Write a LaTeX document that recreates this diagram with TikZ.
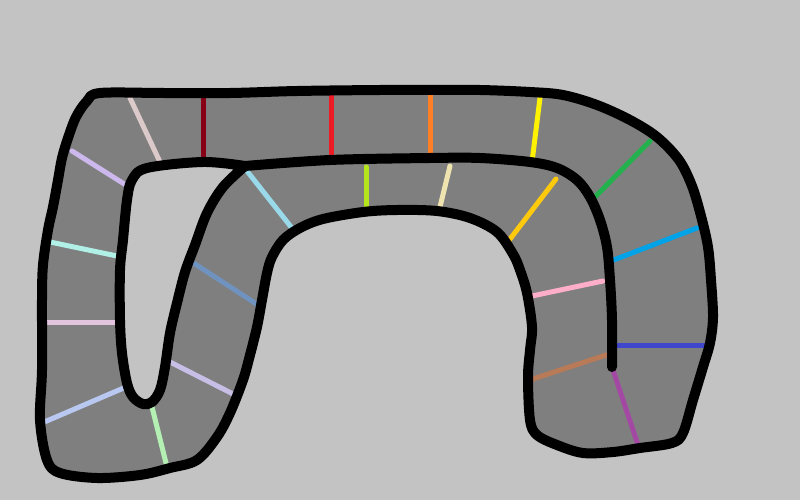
\documentclass[tikz,border=0pt]{standalone}
\usetikzlibrary{calc}
\definecolor{bg}{HTML}{C3C3C3}
\definecolor{band}{HTML}{7F7F7F}
\definecolor{cRosy}{HTML}{DCCACA}
\definecolor{cDarkRed}{HTML}{880015}
\definecolor{cRed}{HTML}{ED1C24}
\definecolor{cOrange}{HTML}{FF7F27}
\definecolor{cYellow}{HTML}{FFF200}
\definecolor{cGreen}{HTML}{22B14C}
\definecolor{cCyan}{HTML}{00A2E8}
\definecolor{cBlue}{HTML}{3F48CC}
\definecolor{cPurple}{HTML}{A349A4}
\definecolor{cBrown}{HTML}{B97A57}
\definecolor{cPink}{HTML}{FFAEC9}
\definecolor{cGold}{HTML}{FFC90E}
\definecolor{cBeige}{HTML}{EFE4B0}
\definecolor{cLime}{HTML}{B5E61D}
\definecolor{cTurq}{HTML}{99D9EA}
\definecolor{cSteel}{HTML}{7092BE}
\definecolor{cLav}{HTML}{C8BFE7}
\definecolor{cMint}{HTML}{B4F0B4}
\definecolor{cPaleBlue}{HTML}{B8C8F0}
\definecolor{cPinkLav}{HTML}{E2C4DE}
\definecolor{cAqua}{HTML}{B0F0E6}
\definecolor{cThistle}{HTML}{CCB8EC}
\begin{document}
\begin{tikzpicture}[x=1pt,y=-1pt,
  outline/.style={draw=black,line width=10pt,line join=round,line cap=round},
  tick/.style={line width=5pt,line cap=round}]
\useasboundingbox (0,0) rectangle (800,500);
\fill[bg] (0,0) rectangle (800,500);
\def\outerpath{plot[smooth cycle,tension=0.55] coordinates {
 (100,93) (163,93) (230,93) (297,91) (380,90) (430,90) (480,90) (530,92) (563,95)
 (597,105) (630,120) (657,137) (679,160) (692,186) (701,216) (708,247) (711,280)
 (713,317) (710,343) (703,367) (693,400) (683,433) (672,443) (640,448) (613,452)
 (583,453) (557,445) (537,435) (530,420) (528,377) (530,350) (532,327) (527,293)
 (520,270) (513,254) (497,232) (470,218) (437,211) (397,210) (363,212) (323,219)
 (300,228) (283,240) (272,257) (267,273) (262,300) (257,327) (250,355) (243,380)
 (230,413) (217,437) (197,460) (170,468) (140,475) (97,478) (60,473) (47,460)
 (40,420) (42,370) (42,300) (43,265) (48,230) (53,207) (58,180) (62,158) (68,138)
 (76,117) (87,101)}}
\def\holepath{plot[smooth,tension=0.55] coordinates {
 (245,166) (223,187) (207,213) (195,245) (185,272) (177,303) (170,333) (165,367)
 (160,390) (152,402) (143,404) (133,397) (127,383) (122,353) (120,320) (120,270)
 (123,240) (127,200) (132,180) (147,168) (203,162) (245,166)} -- cycle}
% outer band
\path[fill=band] \outerpath;
% hole
\path[fill=bg] \holepath;
% cross ticks
\draw[tick,cRosy] (130,98) -- (160,162);
\draw[tick,cDarkRed] (203,98) -- (203,161);
\draw[tick,cRed] (331,95) -- (331,159);
\draw[tick,cOrange] (430,94) -- (430,157);
\draw[tick,cYellow] (540,98) -- (532,162);
\draw[tick,cGreen] (650,141) -- (593,199);
\draw[tick,cCyan] (697,228) -- (611,261);
\draw[tick,cBlue] (614,345) -- (708,345);
\draw[tick,cPurple] (613,370) -- (639,448);
\draw[tick,cBrown] (606,355) -- (533,379);
\draw[tick,cPink] (603,281) -- (532,296);
\draw[tick,cGold] (556,179) -- (507,243);
\draw[tick,cBeige] (450,166) -- (439,211);
\draw[tick,cLime] (366,167) -- (366,209);
\draw[tick,cTurq] (247,171) -- (295,232);
\draw[tick,cSteel] (192,262) -- (258,305);
\draw[tick,cLav] (170,362) -- (237,396);
\draw[tick,cMint] (152,407) -- (167,467);
\draw[tick,cPaleBlue] (126,387) -- (42,423);
\draw[tick,cPinkLav] (47,322) -- (119,322);
\draw[tick,cAqua] (50,242) -- (117,256);
\draw[tick,cThistle] (72,151) -- (129,187);
% outlines
\draw[outline] \outerpath;
\draw[outline] \holepath;
\draw[outline] plot[smooth,tension=0.55] coordinates {
 (245,166) (330,160) (430,158) (480,158) (530,162) (557,168) (577,180) (590,197)
 (600,220) (607,247) (610,280) (612,320) (612,367)};
\end{tikzpicture}
\end{document}
